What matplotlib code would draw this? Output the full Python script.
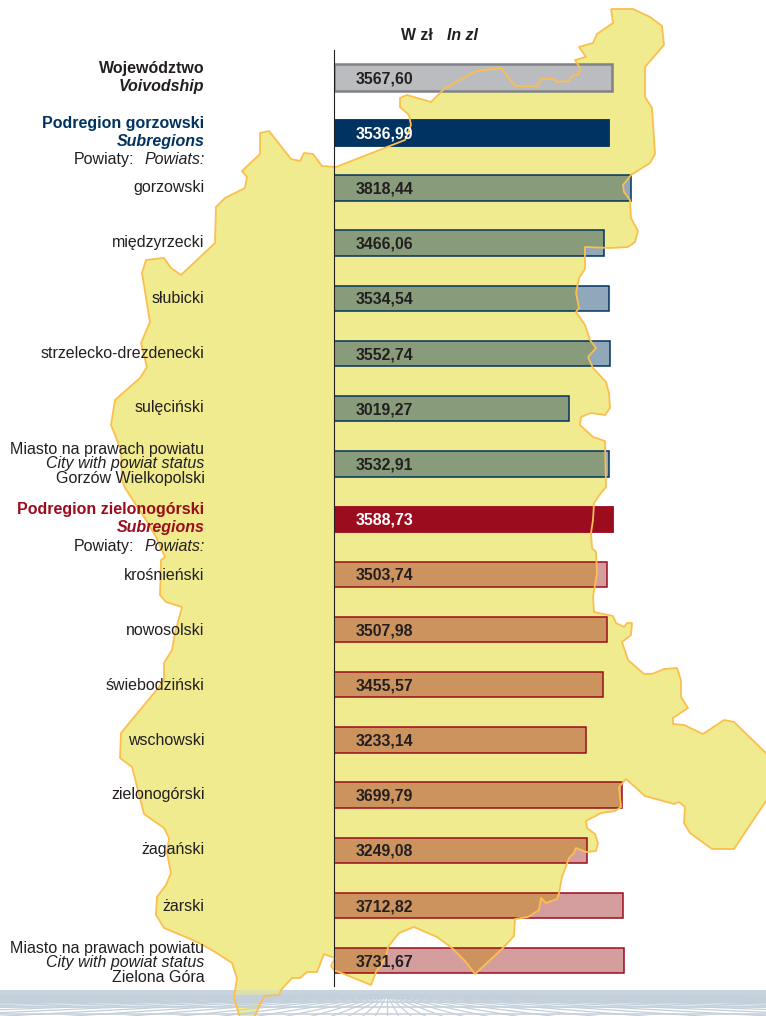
import matplotlib
matplotlib.use('Agg')
import matplotlib.pyplot as plt
from matplotlib.patches import Polygon, Rectangle

plt.rcParams['font.family'] = ['Liberation Sans', 'DejaVu Sans']

names = ['Województwo', 'Podregion gorzowski', 'gorzowski', 'międzyrzecki', 'słubicki',
         'strzelecko-drezdenecki', 'sulęciński', 'Gorzów Wielkopolski', 'Podregion zielonogórski',
         'krośnieński', 'nowosolski', 'świebodziński', 'wschowski', 'zielonogórski',
         'żagański', 'żarski', 'Zielona Góra']
values = [3567.60, 3536.99, 3818.44, 3466.06, 3534.54, 3552.74, 3019.27, 3532.91, 3588.73,
          3503.74, 3507.98, 3455.57, 3233.14, 3699.79, 3249.08, 3712.82, 3731.67]
value_labels = ['3567,60', '3536,99', '3818,44', '3466,06', '3534,54', '3552,74', '3019,27', '3532,91',
                '3588,73', '3503,74', '3507,98', '3455,57', '3233,14', '3699,79', '3249,08',
                '3712,82', '3731,67']

# outline of the voivodship, in picture pixels
map_outline = [
    (611, 9), (633, 9), (650, 17), (662, 26), (664, 45), (645, 67), (645, 97), (652, 108), (655, 154),
    (650, 163), (631, 175), (623, 185), (624, 192), (630, 200), (631, 218), (638, 231), (635, 242),
    (628, 247), (611, 248), (585, 247), (585, 260), (585, 269), (579, 278), (576, 293), (579, 308),
    (576, 312), (585, 325), (590, 340), (596, 348), (588, 357), (593, 368), (606, 382), (609, 393),
    (610, 408), (605, 415), (591, 413), (581, 417), (580, 425), (593, 437), (605, 441), (606, 487),
    (601, 493), (594, 503), (593, 520), (591, 533), (592, 548), (596, 552), (597, 573), (593, 597),
    (594, 612), (613, 616), (616, 623), (624, 627), (627, 623), (632, 623), (631, 635), (622, 642),
    (628, 660), (644, 674), (652, 674), (664, 669), (677, 668), (681, 680), (681, 697), (688, 708),
    (673, 718), (673, 724), (684, 725), (703, 734), (724, 720), (734, 722), (770, 757), (770, 795),
    (752, 822), (734, 849), (712, 849), (690, 833), (684, 823), (685, 807), (679, 802), (674, 804),
    (645, 796), (626, 779), (619, 787), (621, 807), (615, 811), (601, 813), (586, 821), (587, 828),
    (595, 834), (598, 843), (596, 851), (586, 852), (576, 848), (574, 853), (569, 858), (562, 877),
    (559, 893), (557, 899), (546, 903), (541, 898), (539, 910), (528, 917), (515, 919), (514, 936),
    (503, 948), (475, 974), (466, 962), (452, 948), (437, 937), (414, 927), (399, 933), (388, 947),
    (386, 957), (376, 972), (371, 985), (334, 970), (331, 966), (335, 958), (324, 954), (317, 972),
    (307, 972), (300, 978), (292, 978), (281, 990), (279, 995), (264, 996), (254, 1018), (240, 1018),
    (234, 998), (237, 978), (232, 963), (215, 952), (203, 945), (188, 938), (164, 928), (156, 915),
    (157, 897), (166, 885), (171, 873), (167, 853), (169, 838), (164, 828), (144, 814), (132, 767),
    (120, 758), (121, 733), (159, 687), (164, 680), (164, 663), (172, 650), (175, 633), (182, 607),
    (166, 602), (160, 595), (161, 560), (165, 557), (156, 537), (146, 520), (125, 488), (122, 480),
    (121, 450), (111, 425), (115, 400), (140, 378), (147, 367), (141, 343), (150, 322), (142, 273),
    (146, 260), (164, 258), (171, 268), (181, 275), (215, 243), (216, 207), (225, 198), (245, 188),
    (247, 177), (242, 171), (260, 154), (260, 133), (269, 131), (291, 159), (300, 161), (304, 153),
    (313, 154), (322, 166), (336, 167), (405, 140), (411, 125), (409, 115), (400, 107), (400, 98),
    (407, 95), (431, 102), (444, 89), (476, 71), (501, 68), (515, 86), (537, 86), (541, 79), (554, 79),
    (557, 82), (569, 81), (572, 76), (579, 74), (580, 68), (575, 60), (586, 57), (579, 47), (593, 43),
    (597, 34), (613, 23),
]

navy = '#003361'
crimson = '#9B0D1E'
pale_red = '#9E2020'
dark = '#231F20'
map_fill = '#F0EB8E'
map_line = '#FBBF4E'
band = '#C3CFDA'

W, H = 766, 1016
fig = plt.figure(figsize=(W / 100, H / 100), dpi=100)


def pixel_axes(zorder):
    a = fig.add_axes([0, 0, 1, 1], zorder=zorder)
    a.set_xlim(0, W)
    a.set_ylim(H, 0)
    a.axis('off')
    return a


# map fill goes under the bars, its outline and all text over them
back = pixel_axes(0)
back.add_patch(Polygon(map_outline, closed=True, facecolor=map_fill, edgecolor='none'))

# perspective floor at the bottom edge
back.fill_between([0, W], 990, 996, color=band, linewidth=0, alpha=0.9)
for yy in (997.7, 1001.7, 1006.7, 1014):
    back.plot([0, W], [yy, yy], color=band, linewidth=1.1)
vx, vy = 387, 995
for k in range(-34, 35):
    reach = 12 * k * (1 + (k / 9) ** 2)
    back.plot([vx, vx + reach], [vy, 1017], color=band, linewidth=0.9)
show_through = Polygon(map_outline, closed=True, facecolor=map_fill, edgecolor='none', alpha=0.55)
back.add_patch(show_through)
show_through.set_clip_path(Rectangle((0, 990), W, 30, transform=back.transData))

# bars on their own value axes, zero at the vertical line
x0, top_row, row_step, px_per_zl = 334, 77.5, 55.2, 0.0778
bar_ax = fig.add_axes([x0 / W, 0, (W - x0) / W, 1], zorder=1)
bar_ax.set_xlim(0, (W - x0) / px_per_zl)
bar_ax.set_ylim((H - top_row) / row_step, -top_row / row_step)
bar_ax.axis('off')
for i, v in enumerate(values):
    if i == 0:
        bar_ax.barh(i, v, height=0.48, color='#BBBCBF', edgecolor='#808285', linewidth=1.8)
    elif i in (1, 8):
        c = navy if i == 1 else crimson
        bar_ax.barh(i, v, height=0.48, color=c, edgecolor=c, linewidth=0.6)
    else:
        edge = navy if i < 8 else crimson
        face = navy if i < 8 else pale_red
        bar_ax.barh(i, v, height=0.46, color=matplotlib.colors.to_rgba(face, 0.43),
                    edgecolor=edge, linewidth=1.1)

front = pixel_axes(2)
front.add_patch(Polygon(map_outline, closed=True, facecolor='none', edgecolor=map_line, linewidth=1.3,
                        joinstyle='round'))
front.plot([x0, x0], [50, 986], color=dark, linewidth=0.8)

for i, s in enumerate(value_labels):
    front.text(x0 + 22, top_row + i * row_step + 1, s, fontsize=11.4, fontweight='bold',
               color='white' if i in (1, 8) else dark, va='center', ha='left')


def label(y, s, **kw):
    kw.setdefault('color', dark)
    front.text(204.5, y + 0.7, s, fontsize=11.5, ha='right', va='center', **kw)


front.text(401, 35, 'W zł', fontsize=11.4, fontweight='bold', color=dark, va='center')
front.text(447, 35, 'In zl', fontsize=11.4, fontweight='bold', style='italic', color=dark, va='center')

label(68, names[0], fontweight='bold')
label(86, 'Voivodship', fontweight='bold', style='italic')
label(123, names[1], fontweight='bold', color=navy)
label(141, 'Subregions', fontweight='bold', style='italic', color=navy)
front.text(134.5, 159.7, 'Powiaty:', fontsize=11.5, ha='right', va='center', color=dark)
label(159, 'Powiats:', style='italic')
label(187, names[2])
label(242, names[3])
label(298, names[4])
label(353, names[5])
label(407, names[6])
label(448.5, 'Miasto na prawach powiatu')
label(463, 'City with powiat status', style='italic')
label(477.5, names[7])
label(509, names[8], fontweight='bold', color=crimson)
label(527, 'Subregions', fontweight='bold', style='italic', color=crimson)
front.text(134.5, 546.2, 'Powiaty:', fontsize=11.5, ha='right', va='center', color=dark)
label(545.5, 'Powiats:', style='italic')
label(574.5, names[9])
label(629.5, names[10])
label(685, names[11])
label(740, names[12])
label(794, names[13])
label(849, names[14])
label(905.5, names[15])
label(947.5, 'Miasto na prawach powiatu')
label(962, 'City with powiat status', style='italic')
label(976.5, names[16])

fig.savefig('out.png', dpi=100)
